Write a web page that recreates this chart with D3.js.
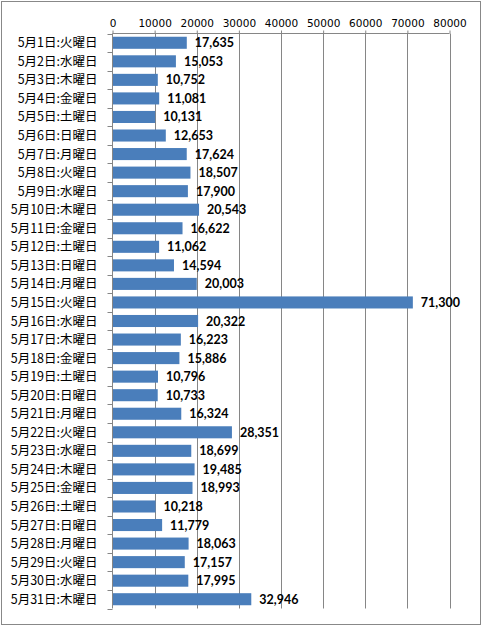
<!DOCTYPE html>
<html><head><meta charset="utf-8">
<script src="https://cdn.jsdelivr.net/npm/d3@7"></script>
<style>html,body{margin:0;padding:0;background:#fff;}svg{display:block;}</style>
</head><body>
<script>
const categories = ["5月1日:火曜日","5月2日:水曜日","5月3日:木曜日","5月4日:金曜日","5月5日:土曜日","5月6日:日曜日","5月7日:月曜日","5月8日:火曜日","5月9日:水曜日","5月10日:木曜日","5月11日:金曜日","5月12日:土曜日","5月13日:日曜日","5月14日:月曜日","5月15日:火曜日","5月16日:水曜日","5月17日:木曜日","5月18日:金曜日","5月19日:土曜日","5月20日:日曜日","5月21日:月曜日","5月22日:火曜日","5月23日:水曜日","5月24日:木曜日","5月25日:金曜日","5月26日:土曜日","5月27日:日曜日","5月28日:月曜日","5月29日:火曜日","5月30日:水曜日","5月31日:木曜日"];
const values = [17635,15053,10752,11081,10131,12653,17624,18507,17900,20543,16622,11062,14594,20003,71300,20322,16223,15886,10796,10733,16324,28351,18699,19485,18993,10218,11779,18063,17157,17995,32946];
const xTicks = [0,10000,20000,30000,40000,50000,60000,70000,80000];

const W = 483, H = 627;
const pLeft = 112.5, pRight = 449.5, pTop = 33.5, pBottom = 608.5;

const svg = d3.select("body").append("svg").attr("width", W).attr("height", H);
svg.append("rect").attr("x",1.5).attr("y",1.5).attr("width",479).attr("height",623)
  .attr("fill","#fff").attr("stroke","#888").attr("stroke-width",1);

const x = d3.scaleLinear().domain([0,80000]).range([pLeft,pRight]);
const y = d3.scaleBand().domain(categories).range([pTop,pBottom]).paddingInner(0.35).paddingOuter(0.175);

// gridlines
svg.append("g").selectAll("line").data(xTicks.slice(1)).join("line")
  .attr("x1",d=>Math.round(x(d))+0.5).attr("x2",d=>Math.round(x(d))+0.5)
  .attr("y1",pTop).attr("y2",pBottom).attr("stroke","#868686").attr("stroke-width",1);

// top axis
const xAxis = d3.axisTop(x).tickValues(xTicks).tickSize(3).tickPadding(4).tickFormat(d3.format("d"));
const gx = svg.append("g").attr("transform",`translate(0,${pTop})`).call(xAxis);
gx.select(".domain").attr("stroke","#868686").attr("d",`M${pLeft},0H${pRight}`);
gx.selectAll(".tick line").attr("stroke","#868686");
gx.selectAll(".tick text").attr("font-family","DejaVu Sans, Verdana, sans-serif").attr("font-size","10.5px").attr("fill","#000");

// left axis: ticks at band boundaries
const step = (pBottom-pTop)/categories.length;
const bounds = d3.range(categories.length+1).map(i=>pTop+i*step);
svg.append("g").selectAll("line").data(bounds).join("line")
  .attr("x1",pLeft-5).attr("x2",pLeft).attr("y1",d=>Math.round(d)+0.5).attr("y2",d=>Math.round(d)+0.5)
  .attr("stroke","#868686");
svg.append("line").attr("x1",pLeft).attr("x2",pLeft).attr("y1",pTop).attr("y2",pBottom).attr("stroke","#868686");

svg.append("g").selectAll("text").data(categories).join("text")
  .attr("x",97.5).attr("y",d=>y(d)+y.bandwidth()/2).attr("dy","0.36em")
  .attr("text-anchor","end").attr("font-family","Noto Sans CJK JP, sans-serif").attr("font-size","12.5px")
  .attr("fill","#000").text(d=>d);

// bars
svg.append("g").selectAll("rect").data(values).join("rect")
  .attr("x",x(0)+0.5).attr("y",(d,i)=>y(categories[i]))
  .attr("width",d=>x(d)-x(0)-0.5).attr("height",y.bandwidth())
  .attr("fill","#4A7EBB");

// value labels
const fmt = d3.format(",");
svg.append("g").selectAll("text").data(values).join("text")
  .attr("x",d=>x(d)+8).attr("y",(d,i)=>y(categories[i])+y.bandwidth()/2).attr("dy","0.36em")
  .attr("font-family","Lato, sans-serif").attr("font-weight","bold").attr("font-size","12.5px")
  .attr("fill","#000").text(d=>fmt(d));
</script>
</body></html>
